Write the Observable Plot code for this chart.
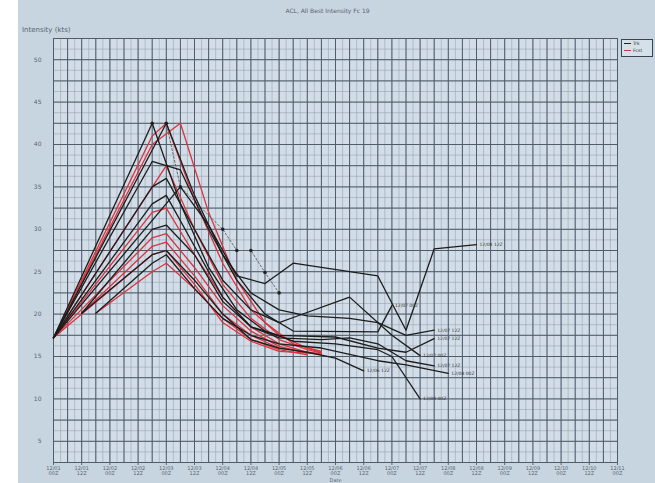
<!DOCTYPE html>
<html><head><meta charset="utf-8">
<script src="https://cdn.jsdelivr.net/npm/d3@7"></script>
<script src="https://cdn.jsdelivr.net/npm/@observablehq/plot@0.6"></script>
<style>
body{margin:0;background:#fff;font-family:"DejaVu Sans",sans-serif;width:655px;height:483px;overflow:hidden;}
#bg{position:absolute;left:18px;top:0;width:637px;height:483px;background:#c7d5e0;}
#chart{position:absolute;left:0;top:0;}
#title{position:absolute;left:0;width:655px;top:7px;text-align:center;font-size:6px;color:#5a6470;}
#ylab{position:absolute;left:22px;top:26px;font-size:7px;color:#5a6470;}
#legend{position:absolute;left:621px;top:39px;width:30px;height:16px;border:1.5px solid #3a4450;background:#d6e0e8;font-size:4.5px;color:#333;}
#legend div{height:7px;line-height:7px;padding-left:2px;white-space:nowrap;}
#legend span{display:inline-block;width:7px;height:0;border-top:1px solid #222;vertical-align:middle;margin-right:2px;}
</style></head><body>
<div id="bg"></div>
<div id="chart"></div>
<div id="title">ACL, All Best Intensity Fc 19</div>
<div id="ylab">Intensity (kts)</div>
<div id="legend"><div><span></span>Trk</div><div><span style="border-top:1px solid #d9333f"></span>Fcst</div></div>
<script>
// X tick labels (two lines)
const tickDay = ["12/01","12/01","12/02","12/02","12/03","12/03","12/04","12/04","12/05","12/05","12/06","12/06","12/07","12/07","12/08","12/08","12/09","12/09","12/10","12/10","12/11"];
const tickHour = ["00Z","12Z","00Z","12Z","00Z","12Z","00Z","12Z","00Z","12Z","00Z","12Z","00Z","12Z","00Z","12Z","00Z","12Z","00Z","12Z","00Z"];
const yTicks = [5,10,15,20,25,30,35,40,45,50];

// Red forecast lines [x index, intensity]
const red1 = [[0,17.2],[3.5,41],[4,42.5],[5,33.5],[6,26],[7,20.5],[8,17.5],[9,16],[9.5,15.5]];
const red2 = [[0,17.2],[3.5,40],[4.5,42.5],[5.5,32],[6.5,24],[7.5,19],[8.5,16.5],[9.5,15.6]];
const red3 = [[0,17.2],[4,37.5],[5,30],[6,23.5],[7,19.5],[8,17],[9,15.8],[9.5,15.4]];
const red4 = [[0,17.2],[3.5,32],[4,32.5],[5,27],[6,22],[7,18.5],[8,16.5],[9,15.5]];
const red5 = [[0,17.2],[3.5,29],[4,29.5],[5,25.5],[6,21],[7,18],[8,16.2],[9,15.4]];
const red6 = [[1,20.1],[3.5,28],[4,28.5],[5,24.5],[6,20],[7,17.5],[8,16],[9.5,15.3]];
const red7 = [[1.5,20.1],[3.5,25],[4,26],[5,23],[6,19.5],[7,17],[8,15.8],[9,15.2]];
const red8 = [[0,17.2],[3.5,27],[4,27.5],[5,23.5],[6,19],[7,16.8],[8,15.6],[9.5,15.3]];

// Black forecast lines
const blk1 = [[0,17.2],[3.5,42.5],[4.5,33],[5.5,25.5],[6.5,20.5],[7.5,18],[8.5,16.8],[10,16.5],[11.5,15.8],[12,15],[13,10.0]];
const blk2 = [[0,17.2],[4,42.5],[5,34],[6,27],[7,22.5],[8,20.5],[9,19.8],[10.5,19.5],[11.5,19],[12.5,17.5],[13.5,18.1]];
const blk3 = [[0,17.2],[4.5,35],[5.5,30.5],[6.5,24.5],[7.5,23.6],[8.5,26],[11.5,24.5],[12.5,18.1],[13.5,27.7],[15,28.2]];
const blk4 = [[0,17.2],[3.5,35],[4,36],[5,30],[6,24],[7,20.5],[8,19],[8.5,19.6],[10.5,22],[12,17.5],[13,15.1]];
const blk5 = [[1,20.1],[3.5,30],[4,30.5],[5,27],[6,21.5],[7,18.5],[8,17.2],[9.5,17],[10.5,17.2],[11.5,16.5],[12.5,14.5],[13.5,13.9]];
const blk6 = [[1.5,20.1],[3.5,26],[4,27],[5,23],[6,19.5],[7,17.5],[8,16.5],[9.5,16],[11.5,14.5],[12.5,14],[14,13.0]];
const blk7 = [[1,20.1],[3.5,27],[4,27.5],[5,24],[6,20],[7,17],[8,16],[9,15.5],[10,14.8],[11,13.3]];
const blk8 = [[0,17.2],[3.5,38],[4.5,37],[5.5,30],[6.5,24],[7.5,20],[8.5,18],[11.5,17.9],[12,21]];
const blk9 = [[0,17.2],[3.5,33],[4,34],[5,28],[6,22],[7,18.5],[8,17.5],[10,17.3],[11.5,16],[12.5,15.5],[13.5,17.1]];

// Best track (dotted with markers)
const best = [[3.5,42.5],[4,42.5],[4.5,35],[6,30],[6.5,27.5],[7,27.5],[7.5,24.9],[8,22.5]];

// End labels of black lines
const endLabels = ["12/08 00Z","12/07 12Z","12/08 12Z","12/07 00Z","12/07 12Z","12/08 00Z","12/06 12Z","12/07 00Z","12/07 12Z"];

const reds = [red1,red2,red3,red4,red5,red6,red7,red8];
const blks = [blk1,blk2,blk3,blk4,blk5,blk6,blk7,blk8,blk9];
const toRows = (arr, id) => arr.map(([x,y]) => ({x, y, id}));
const redRows = reds.flatMap((s,i) => toRows(s, "r"+i));
const blkRows = blks.flatMap((s,i) => toRows(s, "b"+i));
const bestRows = toRows(best, "best");
const ends = blks.map((s,i) => ({x: s[s.length-1][0], y: s[s.length-1][1], t: endLabels[i]}));

const minorX = d3.range(0, 20.01, 0.25);
const majorX = d3.range(0, 20.01, 0.5);
const minorY = d3.range(2.5, 52.51, 1.25);
const majorY = d3.range(2.5, 52.51, 2.5);

const chart = Plot.plot({
  width: 655, height: 483,
  marginLeft: 53, marginRight: 38, marginTop: 38, marginBottom: 21,
  style: {background: "transparent", fontFamily: "DejaVu Sans, sans-serif", color: "#5a6470"},
  x: {domain: [0, 20]},
  y: {domain: [2.5, 52.5]},
  marks: [
    Plot.frame({fill: "#d2dde7", stroke: null}),
    Plot.ruleX(minorX, {stroke: "#8c9aa8", strokeWidth: 0.5}),
    Plot.ruleY(minorY, {stroke: "#8c9aa8", strokeWidth: 0.5}),
    Plot.ruleX(majorX, {stroke: "#4e5c6b", strokeWidth: 1}),
    Plot.ruleY(majorY, {stroke: "#4e5c6b", strokeWidth: 1}),
    Plot.frame({stroke: "#4e5c6b", strokeWidth: 1}),
    Plot.axisY({ticks: yTicks, tickSize: 0, tickPadding: 12, fontSize: 6, label: null}),
    Plot.axisX({ticks: d3.range(0, 21), tickSize: 3, tickPadding: 1, fontSize: 5, label: null,
      tickFormat: i => tickDay[i] + "\n" + tickHour[i]}),
    Plot.line(redRows, {x: "x", y: "y", z: "id", stroke: "#d9333f", strokeWidth: 1.3}),
    Plot.line(bestRows, {x: "x", y: "y", stroke: "#6a6a6a", strokeWidth: 1, strokeDasharray: "2,2"}),
    Plot.dot(bestRows, {x: "x", y: "y", r: 1.8, fill: "#222"}),
    Plot.line(blkRows, {x: "x", y: "y", z: "id", stroke: "#1c1c1c", strokeWidth: 1.3}),
    Plot.text(ends, {x: "x", y: "y", text: "t", dx: 3, textAnchor: "start", fontSize: 4.5, fill: "#333"}),
    Plot.text(["Date"], {frameAnchor: "bottom", dy: 19, fontSize: 5, fill: "#5a6470"})
  ]
});
document.getElementById("chart").appendChild(chart);
</script>
</body></html>
